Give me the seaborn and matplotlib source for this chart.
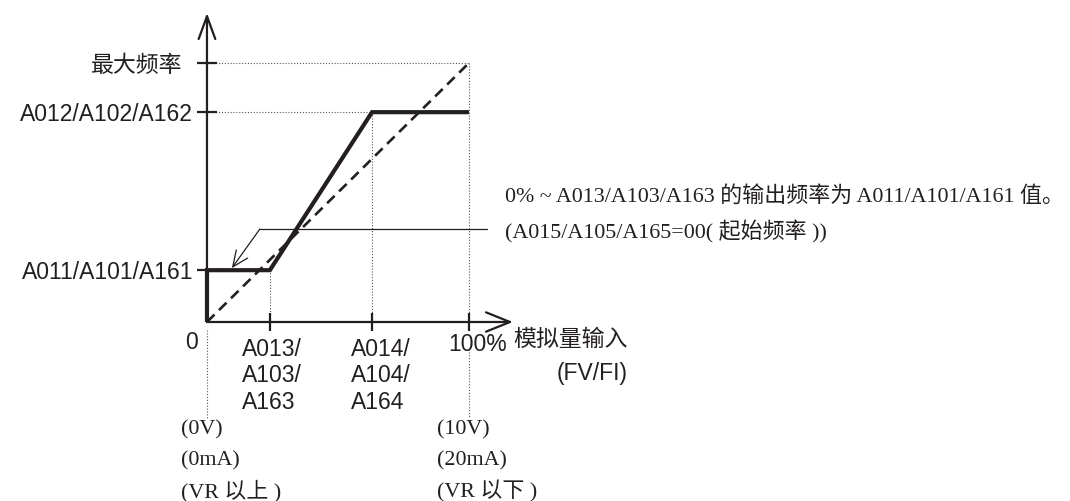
import matplotlib
matplotlib.use("Agg")
import matplotlib.pyplot as plt
import seaborn as sns

# Analog input (% of full scale) vs. output frequency (% of max frequency)
x_breaks = [0, 24, 63, 100]          # 0, A013, A014, 100%
f_start = 20                         # A011/A101/A161
f_end = 81                           # A012/A102/A162
f_max = 100                          # 最大频率

curve_x = [0, 0, 24, 63, 100]
curve_y = [0, 20, 20, 81, 81]
ref_x = [0, 100]
ref_y = [0, 100]

y_tick_vals = [100, 81, 20]
y_tick_labels = ["最大频率", "A012/A102/A162", "A011/A101/A161"]
x_tick_vals = [24, 63, 100]
x_tick_labels = [["A013/", "A103/", "A163"], ["A014/", "A104/", "A164"], ["100%"]]
x_axis_title = "模拟量输入\n(FV/FI)"

note_lines = ["0% ~ A013/A103/A163 的输出频率为 A011/A101/A161 值。",
              "(A015/A105/A165=00( 起始频率 ))"]
range_low = ["(0V)", "(0mA)", "(VR 以上 )"]
range_high = ["(10V)", "(20mA)", "(VR 以下 )"]

sns.set_theme(style="white")
plt.rcParams["font.family"] = ["Liberation Sans", "Noto Sans CJK SC"]

INK = "#231f20"
GUIDE = "#555555"
SANS = ["Liberation Sans", "Noto Sans CJK SC"]
CJK = ["Noto Sans CJK SC", "Liberation Sans"]
SERIF = ["Liberation Serif", "Noto Sans CJK SC"]
FS_SANS = 16.5
FS_SERIF = 15.8

fig = plt.figure(figsize=(10.7, 5.01), dpi=100)
ax = fig.add_axes([0, 0, 1, 1])
ax.set_xlim(-79.0, 329.4)
ax.set_ylim(-69.1, 124.3)
ax.axis("off")

# dotted guide lines
dot = dict(color=GUIDE, lw=0.8, ls=(0, (1, 1.6)))
ax.plot([0, x_breaks[3]], [f_max, f_max], **dot)
ax.plot([0, x_breaks[2]], [f_end, f_end], **dot)
ax.plot([x_breaks[3], x_breaks[3]], [f_max, 0], **dot)
ax.plot([x_breaks[2], x_breaks[2]], [f_end, 0], **dot)
ax.plot([x_breaks[1], x_breaks[1]], [f_start, 0], **dot)
ax.plot([x_breaks[0], x_breaks[0]], [-3, -37], **dot)
ax.plot([x_breaks[3], x_breaks[3]], [-10.5, -37], **dot)

# axes with open arrowheads
ax.annotate("", xy=(0, 119.3), xytext=(0, 0),
            arrowprops=dict(arrowstyle="->,head_length=1.37,head_width=0.5",
                            lw=1.6, color=INK, shrinkA=0, shrinkB=0))
ax.annotate("", xy=(116.8, 0), xytext=(0, 0),
            arrowprops=dict(arrowstyle="->,head_length=1.44,head_width=0.58",
                            lw=1.6, color=INK, shrinkA=0, shrinkB=0))

# tick marks
ax.plot([0] * len(y_tick_vals), y_tick_vals, ls="none", marker="_",
        ms=14, mew=1.6, color=INK)
ax.plot(x_tick_vals, [0] * len(x_tick_vals), ls="none", marker="|",
        ms=13, mew=1.6, color=INK)

# proportional reference and the bias curve
sns.lineplot(x=ref_x, y=ref_y, sort=False, estimator=None, ax=ax,
             color=INK, lw=1.9, linestyle=(0, (4, 2.4)))
sns.lineplot(x=curve_x, y=curve_y, sort=False, estimator=None, ax=ax,
             color=INK, lw=3.0, solid_joinstyle="miter", solid_capstyle="butt")

# y tick labels
for val, lab in zip(y_tick_vals, y_tick_labels):
    is_cjk = lab == "最大频率"
    ax.annotate(lab, xy=(0, val), xytext=(-18 if is_cjk else -10, 0),
                textcoords="offset points", ha="right", va="center_baseline",
                fontsize=FS_SANS, color=INK, family=CJK if is_cjk else SANS)

# origin label
ax.annotate("0", xy=(0, 0), xytext=(-11.5, -13), textcoords="offset points",
            ha="center", va="center_baseline", fontsize=FS_SANS, color=INK,
            family=SANS)

# x tick labels (stacked rows)
x_label_dx = [-20, -15, -15]
for val, rows, dx in zip(x_tick_vals, x_tick_labels, x_label_dx):
    first_dy = -14.4 if len(rows) == 1 else -18
    for i, row in enumerate(rows):
        ax.annotate(row, xy=(val, 0), xytext=(dx, first_dy - 19 * i),
                    textcoords="offset points", ha="left",
                    va="center_baseline", fontsize=FS_SANS, color=INK,
                    family=SANS)

# x axis title, right-aligned block
for i, row in enumerate(x_axis_title.split("\n")):
    ax.annotate(row, xy=(x_breaks[3], 0), xytext=(114.5, -10.5 - 24.5 * i),
                textcoords="offset points", ha="right", va="center_baseline",
                fontsize=FS_SANS, color=INK, family=CJK if i == 0 else SANS)

# signal ranges under the axis
for anchor, rows, dx in [(x_breaks[0], range_low, -18.7),
                         (x_breaks[3], range_high, -23)]:
    for i, row in enumerate(rows):
        ax.annotate(row, xy=(anchor, 0), xytext=(dx, -75.6 - 22.3 * i),
                    textcoords="offset points", ha="left",
                    va="center_baseline", fontsize=FS_SERIF, color=INK,
                    family=SERIF)

# pointer from the note to the starting-frequency segment
note_end = (106.9, 35.9)
bend = (20.2, 35.9)
ax.plot([note_end[0], bend[0]], [note_end[1], bend[1]], color=INK, lw=0.9)
ax.annotate("", xy=(9.5, 20.8), xytext=bend,
            arrowprops=dict(arrowstyle="->,head_length=0.95,head_width=0.42",
                            lw=0.9, color=INK, shrinkA=0, shrinkB=0))
for i, row in enumerate(note_lines):
    ax.annotate(row, xy=note_end, xytext=(13, 25.2 - 25.2 * i),
                textcoords="offset points", ha="left", va="center_baseline",
                fontsize=FS_SERIF, color=INK, family=SERIF)

fig.savefig("out.png", dpi=100)
